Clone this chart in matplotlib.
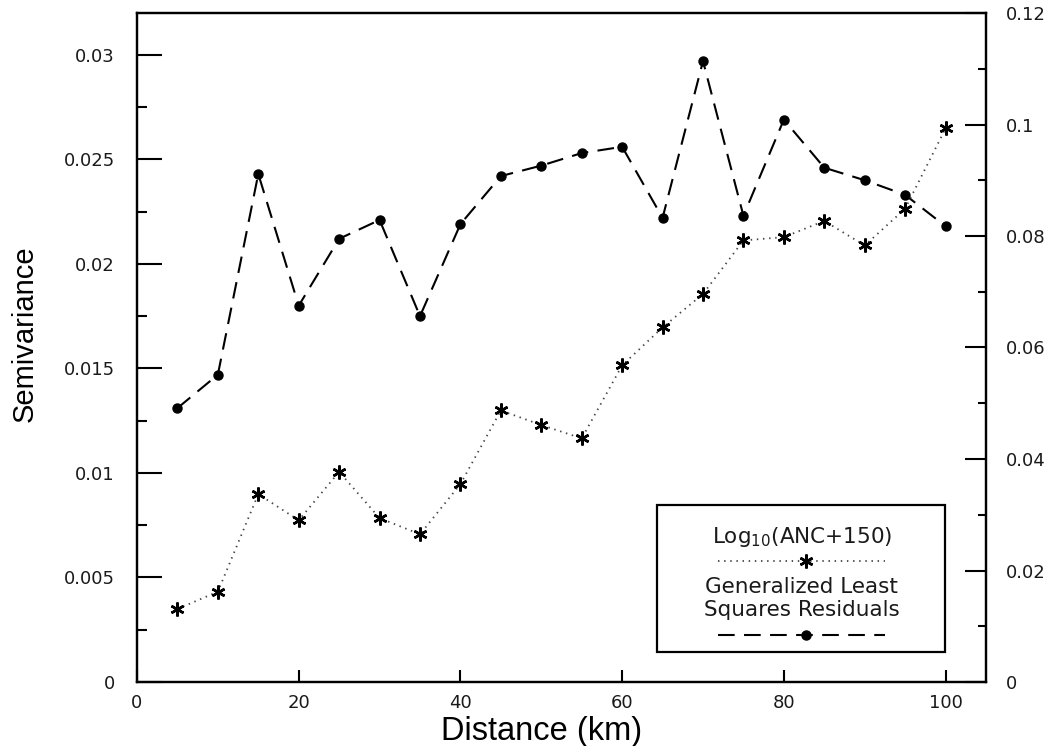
import matplotlib
matplotlib.use("Agg")
import matplotlib.pyplot as plt
from matplotlib.ticker import MultipleLocator, FuncFormatter
from matplotlib.lines import Line2D
from matplotlib.patches import Rectangle
from matplotlib import font_manager

# ---- data ----
distance_km = [5, 10, 15, 20, 25, 30, 35, 40, 45, 50,
               55, 60, 65, 70, 75, 80, 85, 90, 95, 100]
# Generalized Least Squares residuals (left axis)
gls_semivariance = [0.0131, 0.0147, 0.0243, 0.0180, 0.0212, 0.0221, 0.0175, 0.0219, 0.0242, 0.0247,
                    0.0253, 0.0256, 0.0222, 0.0297, 0.0223, 0.0269, 0.0246, 0.0240, 0.0233, 0.0218]
# Log10(ANC+150) (right axis)
anc_semivariance = [0.0131, 0.0162, 0.0337, 0.0290, 0.0377, 0.0294, 0.0265, 0.0355, 0.0487, 0.0461,
                    0.0437, 0.0568, 0.0636, 0.0696, 0.0792, 0.0798, 0.0827, 0.0783, 0.0849, 0.0993]

x_label = "Distance (km)"
y_label = "Semivariance"
legend_anc = "Log$_{10}$(ANC+150)"
legend_gls_lines = ["Generalized Least", "Squares Residuals"]

available = {f.name for f in font_manager.fontManager.ttflist}
label_font = "Liberation Sans" if "Liberation Sans" in available else "DejaVu Sans"
tick_font = "DejaVu Sans"

fig = plt.figure(figsize=(10.52, 7.46), dpi=100)
ax = fig.add_axes([137/1052, 64/746, 849/1052, 669/746])
ax2 = ax.twinx()

ax.set_xlim(0, 105)
ax.set_ylim(0, 0.032)
ax2.set_ylim(0, 0.12)

dash_style = dict(color="black", lw=1.5, dashes=(8, 4.5))
dot_style = dict(color="#444444", lw=1.3, dashes=(0.8, 2.6))

# GLS residuals: dashed with filled circles
ax.plot(distance_km, gls_semivariance, marker="o", ms=6.5, mfc="black", mec="black",
        zorder=3, **dash_style)
# ANC: dotted with asterisks
ax2.plot(distance_km, anc_semivariance, marker=(6, 2, 0), ms=10, mew=1.8, mec="black",
         zorder=3, **dot_style)

for s in ax.spines.values():
    s.set_linewidth(1.6)
for s in ax2.spines.values():
    s.set_linewidth(1.6)

fmt = FuncFormatter(lambda v, p: "0" if abs(v) < 1e-12 else f"{v:g}")

ax.xaxis.set_major_locator(MultipleLocator(20))
ax.xaxis.set_major_formatter(FuncFormatter(lambda v, p: f"{v:g}"))
ax.yaxis.set_major_locator(MultipleLocator(0.005))
ax.yaxis.set_minor_locator(MultipleLocator(0.0025))
ax.yaxis.set_major_formatter(fmt)
ax2.yaxis.set_major_locator(MultipleLocator(0.02))
ax2.yaxis.set_minor_locator(MultipleLocator(0.01))
ax2.yaxis.set_major_formatter(fmt)

ax.tick_params(axis="x", which="major", direction="in", length=9, width=1.5,
               pad=9, labelsize=13, labelcolor="#1a1a1a", top=False)
ax.tick_params(axis="y", which="major", direction="in", length=18, width=1.5,
               pad=16, labelsize=13, labelcolor="#1a1a1a", right=False)
ax.tick_params(axis="y", which="minor", direction="in", length=7, width=1.5, right=False)
ax2.tick_params(axis="y", which="major", direction="in", length=15, width=1.5,
                pad=14, labelsize=13, labelcolor="#1a1a1a")
ax2.tick_params(axis="y", which="minor", direction="in", length=6, width=1.5)

for lab in ax.get_xticklabels() + ax.get_yticklabels() + ax2.get_yticklabels():
    lab.set_family(tick_font)

ax.set_xlabel(x_label, fontsize=23.5, family=label_font)
ax.xaxis.set_label_coords(50/105, -0.051, transform=ax.transAxes)
ax.xaxis.label.set_va("top")
ax.set_ylabel(y_label, fontsize=21, family=label_font)
ax.yaxis.set_label_coords(-0.132, 0.52, transform=ax.transAxes)
ax.yaxis.label.set_va("center")

# ---- legend box (drawn in axes coordinates) ----
ax.add_patch(Rectangle((0.6125, 0.0448), 0.3392, 0.2198, transform=ax.transAxes,
                       fill=True, facecolor="white", edgecolor="black", lw=1.6, zorder=5))
ax.text(0.783, 0.217, legend_anc, transform=ax.transAxes, ha="center", va="center",
        fontsize=15.5, family=tick_font, color="#1a1a1a", zorder=6)
ax.add_line(Line2D([0.684, 0.881], [0.181, 0.181], transform=ax.transAxes, zorder=6, **dot_style))
ax.add_line(Line2D([0.788], [0.181], transform=ax.transAxes, marker=(6, 2, 0), ms=10,
                   mew=1.8, mec="black", ls="none", zorder=7))
ax.text(0.783, 0.1425, legend_gls_lines[0], transform=ax.transAxes, ha="center", va="center",
        fontsize=15.5, family=tick_font, color="#1a1a1a", zorder=6)
ax.text(0.783, 0.108, legend_gls_lines[1], transform=ax.transAxes, ha="center", va="center",
        fontsize=15.5, family=tick_font, color="#1a1a1a", zorder=6)
ax.add_line(Line2D([0.684, 0.881], [0.0703, 0.0703], transform=ax.transAxes, zorder=6, **dash_style))
ax.add_line(Line2D([0.788], [0.0703], transform=ax.transAxes, marker="o", ms=6.5,
                   mfc="black", mec="black", ls="none", zorder=7))

fig.savefig("out.png", dpi=100)
